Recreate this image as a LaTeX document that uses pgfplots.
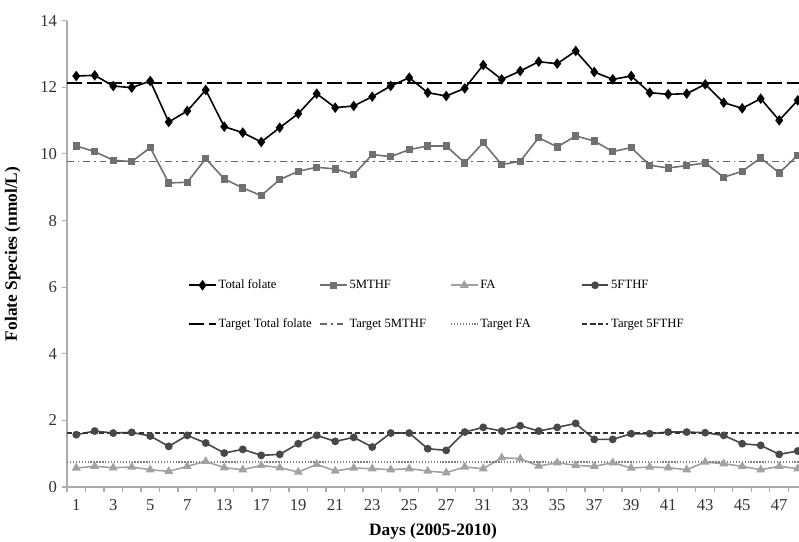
\documentclass[border=0pt]{standalone}
\usepackage{fontspec}
\setmainfont{Liberation Serif}
\usepackage{pgfplots}
\usepackage{pgfplotstable}
\pgfplotsset{compat=1.18}
\definecolor{cTot}{HTML}{000000}
\definecolor{cMT}{HTML}{707070}
\definecolor{cFA}{HTML}{A2A2A2}
\definecolor{cFT}{HTML}{484848}
\pgfplotstableread{
x tot mthf fa fthf
1 12.34 10.24 0.57 1.57
2 12.36 10.07 0.62 1.68
3 12.04 9.81 0.58 1.62
4 11.99 9.77 0.60 1.64
5 12.19 10.19 0.52 1.53
6 10.96 9.13 0.47 1.22
7 11.29 9.15 0.62 1.55
8 11.92 9.86 0.77 1.32
9 10.82 9.25 0.58 1.02
10 10.64 8.98 0.52 1.13
11 10.36 8.75 0.65 0.95
12 10.79 9.23 0.58 0.98
13 11.21 9.48 0.45 1.30
14 11.81 9.60 0.68 1.55
15 11.39 9.55 0.48 1.37
16 11.44 9.38 0.57 1.49
17 11.72 9.98 0.55 1.20
18 12.04 9.92 0.52 1.62
19 12.29 10.13 0.55 1.62
20 11.84 10.24 0.48 1.15
21 11.74 10.24 0.43 1.10
22 11.97 9.73 0.60 1.65
23 12.67 10.34 0.55 1.79
24 12.24 9.68 0.88 1.68
25 12.49 9.78 0.85 1.84
26 12.77 10.49 0.63 1.68
27 12.71 10.21 0.73 1.79
28 13.09 10.54 0.65 1.91
29 12.46 10.39 0.62 1.43
30 12.24 10.07 0.73 1.43
31 12.34 10.19 0.57 1.60
32 11.84 9.66 0.60 1.60
33 11.79 9.58 0.58 1.65
34 11.81 9.65 0.52 1.65
35 12.09 9.73 0.75 1.63
36 11.54 9.30 0.70 1.55
37 11.37 9.48 0.62 1.30
38 11.66 9.88 0.52 1.25
39 11.01 9.43 0.62 0.98
40 11.61 9.96 0.55 1.08
}\datatable
\begin{document}
\begin{tikzpicture}
\useasboundingbox (-50.25pt,-41.25pt) rectangle (549pt,365.25pt);
\begin{axis}[
  at={(0,0)}, anchor=south west,
  scale only axis, width=549pt, height=349.7pt,
  xmin=0.5, xmax=40.07, ymin=0, ymax=14,
  axis x line*=bottom, axis y line*=left,
  axis line style={draw=gray!65, line width=0.9pt, -},
  tick align=outside,
  ytick={0,2,...,14},
  xtick={1,3,...,39},
  xticklabels={1,3,5,7,13,17,19,21,23,25,27,31,33,35,37,39,41,43,45,47},
  minor xtick={0.5,1.5,...,40.5},
  major x tick style={draw=none},
  minor x tick style={draw=gray!65, line width=0.8pt},
  ytick style={draw=gray!65, line width=0.8pt},
  major tick length=4pt, minor tick length=4pt,
  tick label style={font=\fontsize{12.5}{14}\selectfont, text=black!80},
  xticklabel style={yshift=-2pt},
  /pgf/number format/assume math mode=true,
  xlabel={Days (2005-2010)},
  ylabel={Folate Species (nmol/L)},
  label style={font=\fontsize{13}{15}\selectfont\bfseries},
  xlabel style={at={(axis description cs:0.5,0)}, yshift=-33pt, anchor=center},
  ylabel style={at={(axis description cs:-0.074,0.5)}, anchor=center, rotate=0},
  legend columns=4,
  legend cell align=left,
  legend style={draw=none, fill=none, at={(axis description cs:0.16,0.455)}, anchor=north west,
    font=\fontsize{9.5}{11}\selectfont, row sep=18pt,
    nodes={inner sep=1.5pt}},
  legend image code/.code={\draw[mark repeat=2,mark phase=2,#1] plot coordinates {(0cm,0cm) (0.35cm,0cm) (0.7cm,0cm)};},
]
\addplot[cTot, line width=1.2pt, mark=diamond*, mark size=3pt, mark options={solid, fill=cTot}] table[x=x, y=tot] {\datatable};
\addlegendentry{\makebox[74pt][l]{Total folate}}
\addplot[cMT, line width=1.2pt, mark=square*, mark size=2.1pt, mark options={solid, fill=cMT}] table[x=x, y=mthf] {\datatable};
\addlegendentry{\makebox[74pt][l]{5MTHF}}
\addplot[cFA, line width=1.2pt, mark=triangle*, mark size=2.7pt, mark options={solid, fill=cFA}] table[x=x, y=fa] {\datatable};
\addlegendentry{\makebox[74pt][l]{FA}}
\addplot[cFT, line width=1.2pt, mark=*, mark size=2.3pt, mark options={solid, fill=cFT}] table[x=x, y=fthf] {\datatable};
\addlegendentry{\makebox[74pt][l]{5FTHF}}
\addplot[black, line width=1.3pt, dash pattern=on 11pt off 4pt] coordinates {(0.5,12.12) (40.5,12.12)};
\addlegendentry{\makebox[74pt][l]{Target Total folate}}
\addplot[black!60, line width=1.1pt, dash pattern=on 5pt off 3pt on 1.3pt off 3pt] coordinates {(0.5,9.77) (40.5,9.77)};
\addlegendentry{\makebox[74pt][l]{Target 5MTHF}}
\addplot[black!50, line width=1.1pt, dash pattern=on 1pt off 1.2pt] coordinates {(0.5,0.75) (40.5,0.75)};
\addlegendentry{\makebox[74pt][l]{Target FA}}
\addplot[black!80, line width=1.2pt, dash pattern=on 4pt off 2pt] coordinates {(0.5,1.62) (40.5,1.62)};
\addlegendentry{\makebox[74pt][l]{Target 5FTHF}}
\end{axis}
\end{tikzpicture}
\end{document}
